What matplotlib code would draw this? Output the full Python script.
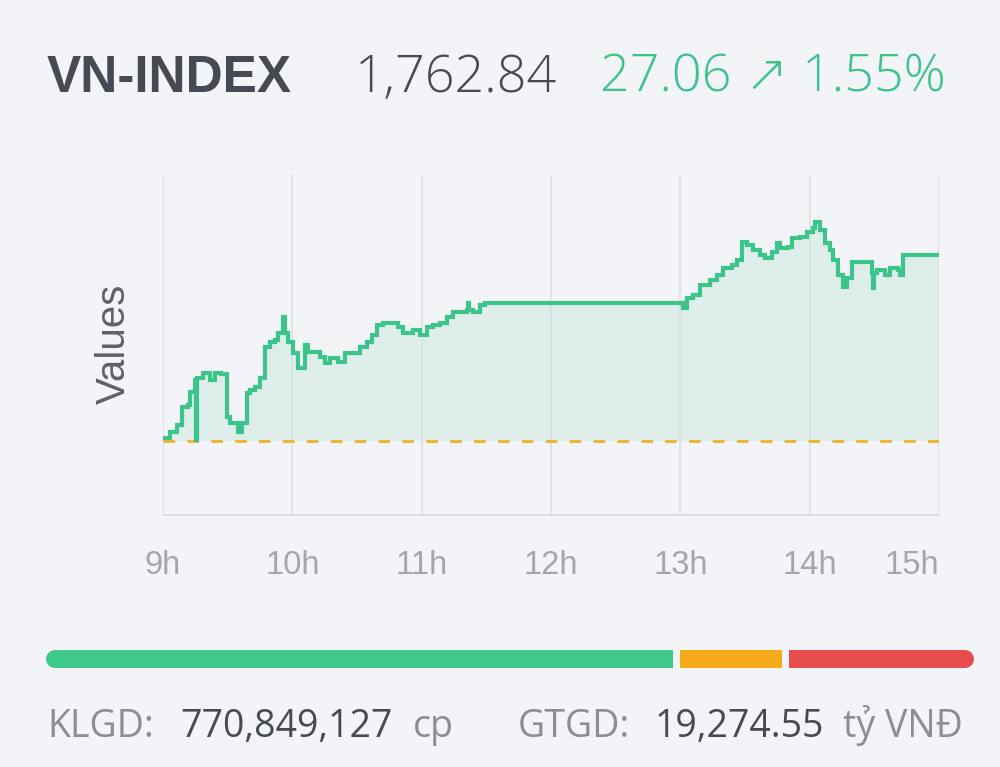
import matplotlib
matplotlib.use("Agg")
import matplotlib.pyplot as plt
import numpy as np

# ---------------- data ----------------
index_name = "VN-INDEX"
index_value = 1762.84
index_change = 27.06
index_pct = 1.55
reference = 1735.78

# minutes after 09:00 and index values
minutes = [0, 3.2, 6.5, 8.8, 11.6, 12.5, 14.8, 15.3, 15.8, 18.6, 21.8, 24.1, 27.0,
           29.7, 31.1, 34.8, 36.7, 39.0, 40.4, 42.7, 45.0, 47.3, 49.7, 52.0, 53.4,
           55.7, 56.6, 58.0, 60.3, 62.6, 65.9, 67.3, 72.9, 75.2, 77.5, 81.2, 84.5,
           91.4, 94.7, 97.0, 99.3, 102.1, 109.0, 111.4, 116.0, 119.3, 122.5, 125.3,
           128.5, 131.8, 134.6, 141.1, 141.6, 142.0, 143.9, 147.1, 149.4, 240.0,
           241.3, 243.2, 245.9, 249.2, 253.8, 257.1, 259.9, 264.0, 266.4, 268.7,
           271.0, 273.8, 277.0, 279.3, 282.6, 284.9, 286.3, 290.0, 291.9, 295.6,
           298.8, 301.6, 302.6, 304.9, 307.2, 309.5, 310.9, 313.2, 315.5, 317.4,
           319.7, 329.0, 329.5, 330.0, 331.3, 335.0, 337.3, 341.1, 342.0, 343.4, 360.0]
values = [1736.2, 1737.1, 1738.1, 1740.7, 1741.0, 1742.9, 1744.7, 1735.9, 1744.9, 1745.7,
          1744.7, 1745.7, 1745.6, 1739.3, 1738.4, 1737.1, 1738.4, 1742.8, 1743.2, 1743.6,
          1745.0, 1749.5, 1750.2, 1750.5, 1751.5, 1753.8, 1751.5, 1750.2, 1748.6, 1746.4,
          1749.8, 1748.7, 1748.0, 1747.1, 1747.9, 1747.3, 1748.6, 1749.5, 1750.2, 1751.2,
          1752.7, 1753.0, 1752.4, 1751.5, 1751.9, 1751.2, 1752.4, 1752.7, 1753.0, 1753.8,
          1754.6, 1754.9, 1755.9, 1754.9, 1754.6, 1755.6, 1755.9, 1755.9, 1755.1, 1756.6,
          1757.0, 1758.5, 1759.2, 1759.9, 1761.0, 1761.4, 1762.1, 1764.8, 1764.3, 1763.6,
          1762.9, 1762.4, 1763.3, 1764.6, 1763.9, 1764.0, 1765.3, 1765.5, 1766.2, 1766.8,
          1767.7, 1766.5, 1764.6, 1763.6, 1762.1, 1759.9, 1758.2, 1759.5, 1761.8, 1760.2,
          1758.1, 1760.2, 1760.7, 1759.9, 1761.0, 1760.7, 1759.9, 1762.84, 1762.84]

hour_ticks = [9, 10, 11, 12, 13, 14, 15]
hour_labels = ["9h", "10h", "11h", "12h", "13h", "14h", "15h"]

# market breadth shares: up / unchanged / down
breadth = [68.6, 11.2, 20.2]
breadth_colors = ["#3cc98a", "#f7aa19", "#e84d4d"]

volume_label = "KLGD:"
volume_value = "770,849,127"
volume_unit = "cp"
turnover_label = "GTGD:"
turnover_value = "19,274.55"
turnover_unit = "tỷ VNĐ"

# ---------------- style ----------------
BG = "#f3f4f8"
DARK = "#464b53"
GREEN = "#3cc48a"
GRAY = "#8b8e94"
TICK = "#a3a6ab"

W, H = 1000, 767
fig = plt.figure(figsize=(W / 100, H / 100), dpi=100, facecolor=BG)

def fx(px):
    return px / W

def fy(py):
    return 1 - py / H

# header
fig.text(fx(47), fy(92), index_name, fontsize=37, fontweight="bold",
         family=["Liberation Sans", "DejaVu Sans"], color=DARK, va="baseline", ha="left")
fig.text(fx(355), fy(92), f"{index_value:,.2f}", fontsize=37.5, fontweight="light",
         family=["Open Sans", "DejaVu Sans"], color=DARK, va="baseline", ha="left")
fig.text(fx(946), fy(92), f"{index_change:.2f} \u2197 {index_pct:.2f}%", fontsize=37.5,
         fontweight="light", family=["Open Sans", "DejaVu Sans"], color=GREEN,
         va="baseline", ha="right")

# main chart
ax = fig.add_axes([fx(163), fy(515), fx(939) - fx(163), (515 - 175) / H])
ax.set_facecolor(BG)
t = 9 + np.array(minutes) / 60.0
v = np.array(values)

ax.fill_between(t, v, reference, step="post", color=GREEN, alpha=0.11, lw=0, zorder=1)
ax.plot(t, v, drawstyle="steps-post", color=GREEN, lw=3.0, zorder=3,
        solid_joinstyle="miter")
ax.axhline(reference, color="#f0b323", lw=2.0, ls=(0, (4.2, 4.4)), zorder=2)

ax.set_xlim(9, 15)
ax.set_ylim(1725, 1774.5)
ax.set_xticks(hour_ticks)
ax.set_xticklabels(hour_labels)
ax.set_yticks([])
ax.grid(axis="x", color="#dcdde1", lw=1.1)
for s in ["top", "left", "right"]:
    ax.spines[s].set_visible(False)
ax.spines["bottom"].set_color("#d8d9dd")
ax.spines["bottom"].set_linewidth(1.2)
ax.tick_params(axis="x", length=0, pad=25, labelsize=23.5, labelcolor=TICK)
for lbl in ax.get_xticklabels():
    lbl.set_family(["Liberation Sans", "DejaVu Sans"])
ax.get_xticklabels()[-1].set_ha("right")
ax.get_xticklabels()[-1].set_x(15)

fig.text(fx(114), fy(344), "Values", rotation=90, fontsize=29,
         family=["Liberation Sans", "DejaVu Sans"], color="#5d6168",
         ha="center", va="center")

# breadth bar
bx = fig.add_axes([fx(46), fy(668), fx(974) - fx(46), 18 / H])
bx.set_facecolor(BG)
bx.axis("off")
gap_px = 7
total_px = 974 - 46
gap = gap_px * (sum(breadth) / (total_px - 2 * gap_px))
total = sum(breadth) + 2 * gap
bx.set_xlim(0, total)
bx.set_ylim(0, 1)
r = 9 * total / total_px  # cap radius in data units
lefts = []
pos = 0.0
for w in breadth:
    lefts.append(pos)
    pos += w + gap
lw_pt = 18 * 72 / 100
for i, (w, c, l0) in enumerate(zip(breadth, breadth_colors, lefts)):
    a, b = l0, l0 + w
    if i == 0:
        a = l0 + r
        bx.plot([a, a + r], [0.5, 0.5], color=c, lw=lw_pt, solid_capstyle="round")
    if i == len(breadth) - 1:
        b = l0 + w - r
        bx.plot([b - r, b], [0.5, 0.5], color=c, lw=lw_pt, solid_capstyle="round")
    bx.barh(0.5, b - a, left=a, height=1.0, color=c, lw=0)

# footer
fkw = dict(fontsize=27, family=["Open Sans", "DejaVu Sans"], va="baseline")
fig.text(fx(47), fy(737), volume_label, color=GRAY, **fkw)
fig.text(fx(180), fy(737), volume_value, color=DARK, **fkw)
fig.text(fx(413), fy(737), volume_unit, color=GRAY, **fkw)
fig.text(fx(518), fy(737), turnover_label, color=GRAY, **fkw)
fig.text(fx(655), fy(737), turnover_value, color=DARK, **fkw)
fig.text(fx(843), fy(737), turnover_unit, color=GRAY, **fkw)

fig.savefig("out.png", dpi=100, facecolor=BG)
